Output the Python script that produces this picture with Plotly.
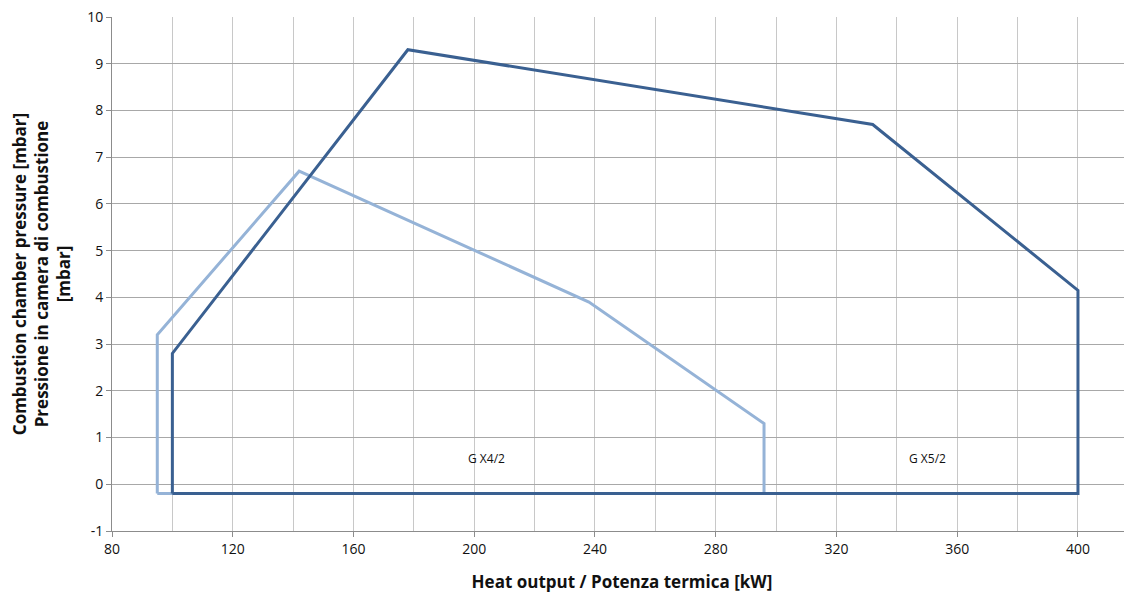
import plotly.graph_objects as go

# Data
gx5_x = [100, 100, 178, 332, 400, 400, 100]
gx5_y = [-0.2, 2.8, 9.3, 7.7, 4.15, -0.2, -0.2]
gx4_x = [95, 95, 142, 238, 296, 296, 95]
gx4_y = [-0.2, 3.2, 6.7, 3.9, 1.3, -0.2, -0.2]
labels = ["G X4/2", "G X5/2"]
label_x = [204, 350]
label_y = [0.56, 0.56]
y_tickvals = [-1, 0, 1, 2, 3, 4, 5, 6, 7, 8, 9, 10]
y_ticktext = ["-1", "0", "1", "2", "3", "4", "5", "6", "7", "8", "9", "10"]

FONT = "Open Sans"
fig = go.Figure()
fig.add_trace(go.Scatter(x=gx4_x, y=gx4_y, mode="lines",
                         line=dict(color="#95B3D7", width=3), name="G X4/2"))
fig.add_trace(go.Scatter(x=gx5_x, y=gx5_y, mode="lines",
                         line=dict(color="#3A6091", width=3), name="G X5/2"))

for t, x, y in zip(labels, label_x, label_y):
    fig.add_annotation(x=x, y=y, text=t, showarrow=False,
                       font=dict(family=FONT, size=12, color="#111"))

fig.update_layout(
    width=1132, height=597,
    margin=dict(l=104, r=8, t=9, b=74),
    paper_bgcolor="white", plot_bgcolor="white",
    showlegend=False,
    font=dict(family=FONT, color="#111"),
    xaxis=dict(range=[80, 417.9], tick0=80, dtick=40, automargin=False,
               showgrid=True, gridcolor="#C8C8C8", gridwidth=1,
               minor=dict(dtick=20, showgrid=True, gridcolor="#C8C8C8", gridwidth=1),
               showline=True, linecolor="#8C8C8C", linewidth=1,
               ticks="outside", ticklen=5, tickcolor="#8C8C8C",
               zeroline=False,
               tickfont=dict(size=14, family=FONT),
               title=dict(text="<b>Heat output / Potenza termica [kW]</b>",
                          font=dict(size=17, family=FONT), standoff=19)),
    yaxis=dict(range=[-1, 10], tickmode="array", tickvals=y_tickvals, ticktext=y_ticktext,
               automargin=False, ticklabeloverflow="allow",
               showgrid=True, gridcolor="#A8A8A8", gridwidth=1,
               showline=True, linecolor="#8C8C8C", linewidth=1,
               ticks="outside", ticklen=5, tickcolor="#8C8C8C",
               zeroline=False,
               tickfont=dict(size=14, family=FONT),
               title=dict(text="<b>Combustion chamber pressure [mbar]<br>Pressione in camera di combustione<br>[mbar]</b>",
                          font=dict(size=17, family=FONT), standoff=16)),
)

fig.write_html("out.html")
